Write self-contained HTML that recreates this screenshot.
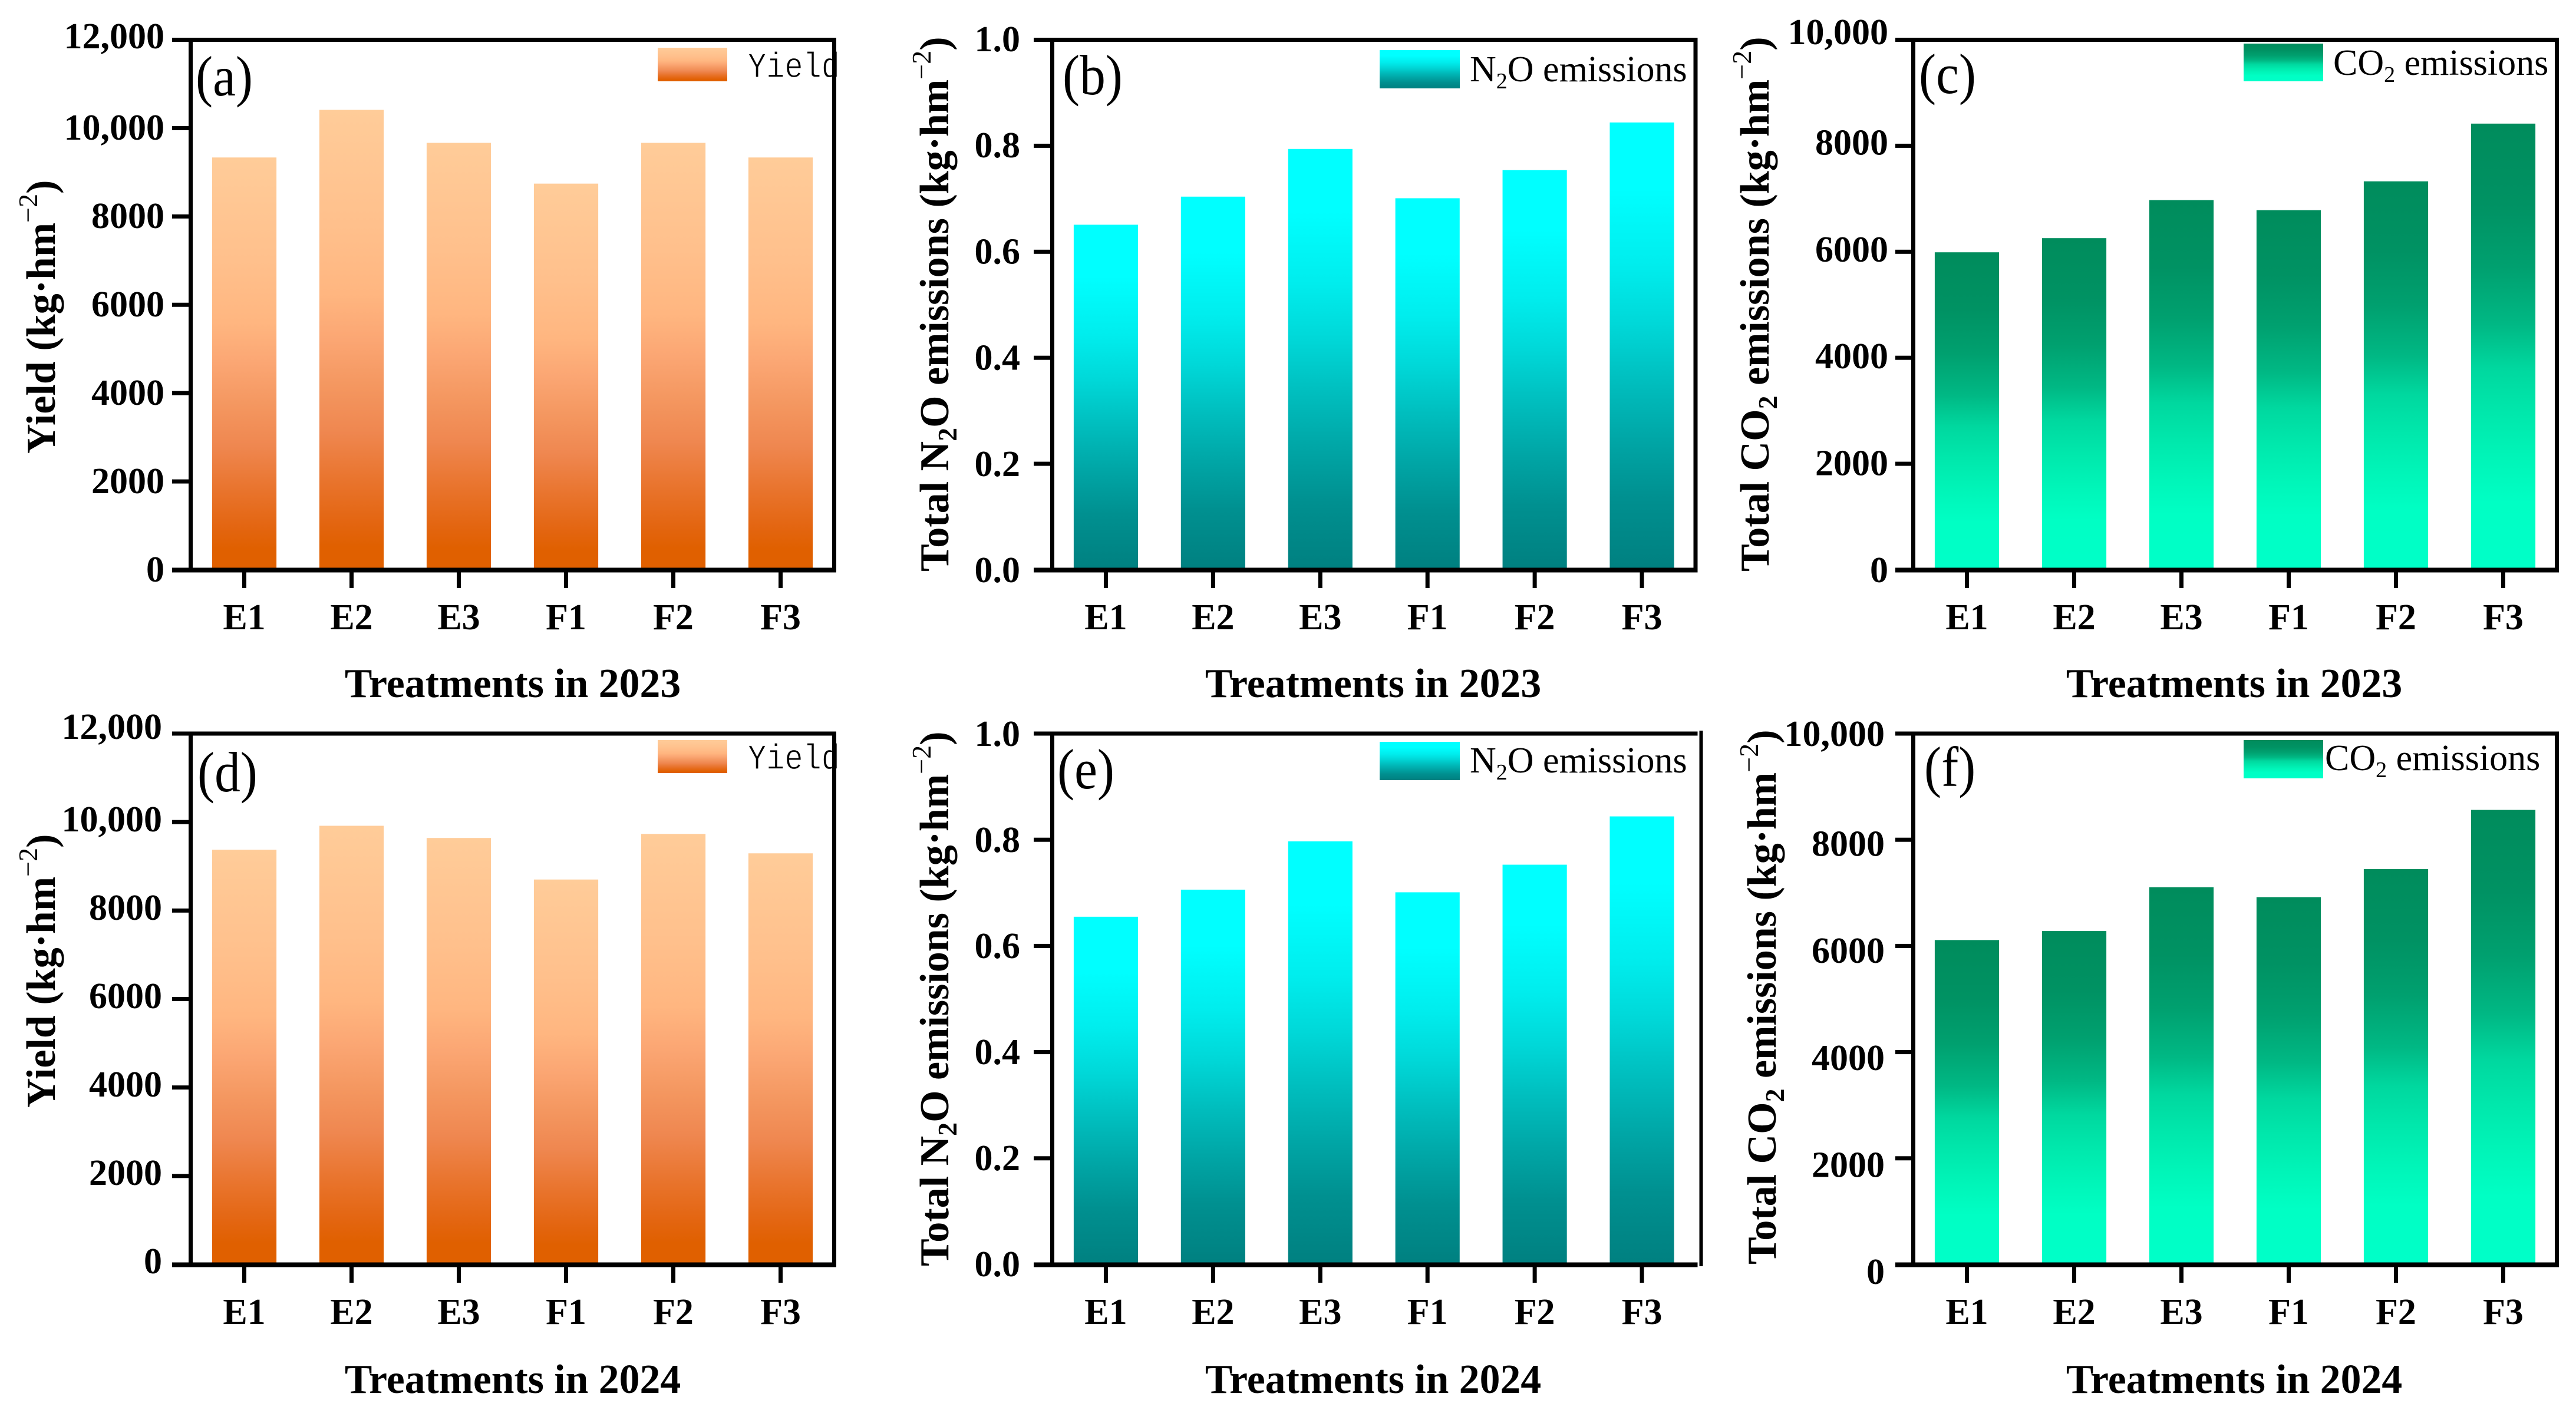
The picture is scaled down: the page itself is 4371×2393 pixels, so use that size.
<!DOCTYPE html>
<html lang="en">
<head>
<meta charset="utf-8">
<title>Yield and emissions by treatment</title>
<style>
html,body{margin:0;padding:0;background:#fff;}
svg{display:block;}
text{font-family:"Liberation Serif","Noto Serif CJK SC",serif;fill:#000;}
.ytitle{font-size:70px;font-weight:bold;}
.xtitle{font-size:69.7px;font-weight:bold;text-anchor:middle;}
.plabel{font-size:96px;}
.leg{font-size:62px;}
.legy{font-family:"Liberation Mono",monospace;font-size:60px;stroke:#fff;stroke-width:1.2px;}
.sub{font-size:46px;}
.sup{font-size:46px;font-weight:normal;}
.lsub{font-size:38px;}
</style>
</head>
<body>
<svg id="figure" xmlns="http://www.w3.org/2000/svg" width="4371" height="2393" viewBox="0 0 4371 2393">
<defs>
<linearGradient id="gOrange" x1="0" y1="0" x2="0" y2="1">
<stop offset="0" stop-color="#FFCC99"/><stop offset="0.25" stop-color="#FFC08C"/><stop offset="0.4" stop-color="#FFB680"/><stop offset="0.5" stop-color="#FBA673"/><stop offset="0.6" stop-color="#F49760"/><stop offset="0.7" stop-color="#EF8750"/><stop offset="0.8" stop-color="#E9752F"/><stop offset="0.9" stop-color="#E36510"/><stop offset="0.95" stop-color="#E06000"/><stop offset="1" stop-color="#E06000"/>
</linearGradient>
<linearGradient id="gCyan" x1="0" y1="0" x2="0" y2="1">
<stop offset="0" stop-color="#00FFFF"/><stop offset="0.15" stop-color="#00FFFF"/><stop offset="0.32" stop-color="#00EDED"/><stop offset="0.45" stop-color="#00D8D8"/><stop offset="0.58" stop-color="#00BEBE"/><stop offset="0.71" stop-color="#00A6A6"/><stop offset="0.84" stop-color="#009090"/><stop offset="1" stop-color="#008080"/>
</linearGradient>
<linearGradient id="gGreen" x1="0" y1="0" x2="0" y2="1">
<stop offset="0" stop-color="#008C5C"/><stop offset="0.18" stop-color="#009263"/><stop offset="0.32" stop-color="#00A06F"/><stop offset="0.45" stop-color="#00B884"/><stop offset="0.55" stop-color="#00D89F"/><stop offset="0.65" stop-color="#00E8AC"/><stop offset="0.75" stop-color="#00F5B8"/><stop offset="0.85" stop-color="#00FFC4"/><stop offset="1" stop-color="#00FFC8"/>
</linearGradient>
</defs>
<rect width="4371" height="2393" fill="#fff"/>

<g id="panel-a">
<text class="ytitle" transform="translate(93,770) rotate(-90)">Yield (kg·hm<tspan class="sup" dy="-30">−2</tspan><tspan dy="30">)</tspan></text>
<text class="xtitle" x="870" y="1183">Treatments in 2023</text>
<text class="plabel" transform="translate(332,162) scale(0.91,1)">(a)</text>
<rect x="1116" y="81" width="118" height="57" fill="url(#gOrange)"/>
<text class="legy" x="1269" y="131" textLength="156" lengthAdjust="spacingAndGlyphs">Yield</text>
</g>

<g id="panel-b">
<text class="ytitle" transform="translate(1609,970) rotate(-90)">Total N<tspan class="sub" dy="14">2</tspan><tspan dy="-14">O emissions (kg·hm</tspan><tspan class="sup" dy="-30">−2</tspan><tspan dy="30">)</tspan></text>
<text class="xtitle" x="2330" y="1183">Treatments in 2023</text>
<text class="plabel" transform="translate(1803,160) scale(0.91,1)">(b)</text>
<rect x="2341" y="85" width="136" height="65" fill="url(#gCyan)"/>
<text class="leg" x="2494" y="138">N<tspan class="lsub" dy="12">2</tspan><tspan dy="-12">O emissions</tspan></text>
</g>

<g id="panel-c">
<text class="ytitle" transform="translate(3001,970) rotate(-90)">Total CO<tspan class="sub" dy="14">2</tspan><tspan dy="-14"> emissions (kg·hm</tspan><tspan class="sup" dy="-30">−2</tspan><tspan dy="30">)</tspan></text>
<text class="xtitle" x="3791" y="1183">Treatments in 2023</text>
<text class="plabel" transform="translate(3256,158) scale(0.91,1)">(c)</text>
<rect x="3807" y="74" width="135" height="64" fill="url(#gGreen)"/>
<text class="leg" x="3959" y="127">CO<tspan class="lsub" dy="12">2</tspan><tspan dy="-12"> emissions</tspan></text>
</g>

<g id="panel-d">
<text class="ytitle" transform="translate(93,1880) rotate(-90)">Yield (kg·hm<tspan class="sup" dy="-30">−2</tspan><tspan dy="30">)</tspan></text>
<text class="xtitle" x="870" y="2364">Treatments in 2024</text>
<text class="plabel" transform="translate(335,1343) scale(0.91,1)">(d)</text>
<rect x="1116" y="1256" width="118" height="56" fill="url(#gOrange)"/>
<text class="legy" x="1269" y="1305" textLength="156" lengthAdjust="spacingAndGlyphs">Yield</text>
</g>

<g id="panel-e">
<text class="ytitle" transform="translate(1609,2149) rotate(-90)">Total N<tspan class="sub" dy="14">2</tspan><tspan dy="-14">O emissions (kg·hm</tspan><tspan class="sup" dy="-30">−2</tspan><tspan dy="30">)</tspan></text>
<text class="xtitle" x="2330" y="2364">Treatments in 2024</text>
<text class="plabel" transform="translate(1794,1338) scale(0.91,1)">(e)</text>
<rect x="2341" y="1259" width="136" height="65" fill="url(#gCyan)"/>
<text class="leg" x="2494" y="1311">N<tspan class="lsub" dy="12">2</tspan><tspan dy="-12">O emissions</tspan></text>
</g>

<g id="panel-f">
<text class="ytitle" transform="translate(3013,2146) rotate(-90)">Total CO<tspan class="sub" dy="14">2</tspan><tspan dy="-14"> emissions (kg·hm</tspan><tspan class="sup" dy="-30">−2</tspan><tspan dy="30">)</tspan></text>
<text class="xtitle" x="3791" y="2364">Treatments in 2024</text>
<text class="plabel" transform="translate(3265,1334) scale(0.91,1)">(f)</text>
<rect x="3807" y="1256" width="135" height="65" fill="url(#gGreen)"/>
<text class="leg" x="3945" y="1307">CO<tspan class="lsub" dy="12">2</tspan><tspan dy="-12"> emissions</tspan></text>
</g>
</svg>

<script>
const categories = ['E1', 'E2', 'E3', 'F1', 'F2', 'F3'];

const yield2023 = [9335, 10413, 9666, 8743, 9666, 9335];
const n2o2023 = [0.651, 0.704, 0.794, 0.701, 0.754, 0.844];
const co22023 = [5990, 6257, 6975, 6785, 7329, 8418];
const yield2024 = [9375, 9916, 9640, 8701, 9732, 9293];
const n2o2024 = [0.655, 0.706, 0.797, 0.701, 0.753, 0.844];
const co22024 = [6111, 6281, 7106, 6919, 7447, 8562];

const yieldTicks = [0, 2000, 4000, 6000, 8000, 10000, 12000];
const yieldTickLabels = ['0', '2000', '4000', '6000', '8000', '10,000', '12,000'];
const n2oTicks = [0, 0.2, 0.4, 0.6, 0.8, 1.0];
const n2oTickLabels = ['0.0', '0.2', '0.4', '0.6', '0.8', '1.0'];
const co2Ticks = [0, 2000, 4000, 6000, 8000, 10000];
const co2TickLabels = ['0', '2000', '4000', '6000', '8000', '10,000'];

const SVGNS = 'http://www.w3.org/2000/svg';

function make(parent, tag, attrs) {
  const node = document.createElementNS(SVGNS, tag);
  Object.keys(attrs).forEach(function (k) { node.setAttribute(k, attrs[k]); });
  parent.appendChild(node);
  return node;
}

function drawPanel(p) {
  const host = document.getElementById(p.id);
  const maxV = p.ticks[p.ticks.length - 1];
  const step = (p.right - p.left) / categories.length;
  const barW = step * 0.6;
  const xScale = function (i) { return p.left + step * (i + 0.5); };
  const yScale = function (v) { return p.bottom - (p.bottom - p.top) * v / maxV; };
  const labelY = function (v) {
    const shift = v === maxV ? (p.topShift || 0) : 0;
    return p.lab0 + (p.labMax - p.lab0) * v / maxV + 21 + shift;
  };

  const bars = make(host, 'g', {});
  
  
  p.values.forEach(function (v, i) {
    const bar = make(bars, 'rect', {
      x: xScale(i) - barW / 2,
      y: yScale(v),
      width: barW,
      height: p.bottom - yScale(v),
      fill: 'url(#' + p.grad + ')'
    });
    
    
  });

  const xAxis = make(host, 'g', {});
  
  
  categories.forEach(function (c, i) {
    const t = make(xAxis, 'rect', { x: xScale(i) - 3.5, y: p.bottom, width: 7, height: p.tickDown - p.bottom, fill: '#000' });
    
    
    const l = make(xAxis, 'text', { x: xScale(i), y: p.xLabelY, 'text-anchor': 'middle', 'font-size': 62, 'font-weight': 'bold' });
    l.textContent = c;
    
    
  });

  const yAxis = make(host, 'g', {});
  
  
  p.ticks.forEach(function (v, i) {
    const t = make(yAxis, 'rect', { x: p.tickLeft, y: yScale(v) - 3.5, width: p.left - p.tickLeft, height: 7, fill: '#000' });
    
    
    const l = make(yAxis, 'text', { x: p.labelRight, y: labelY(v), 'text-anchor': 'end', 'font-size': 62, 'font-weight': 'bold' });
    l.textContent = p.labels[i];
    
    
  });

  const frame = make(host, 'g', { fill: '#000' });
  
  
  make(frame, 'rect', { x: p.tickLeft, y: p.top - 3.5, width: p.right + 3.5 - p.tickLeft, height: 7 });
  make(frame, 'rect', { x: p.tickLeft, y: p.bottom - 3.5, width: p.right + 3.5 - p.tickLeft, height: 8 });
  make(frame, 'rect', { x: p.left - 3.5, y: p.top - 3.5, width: 7, height: p.bottom - p.top + 7 });
  make(frame, 'rect', {
    x: (p.rightLineX || p.right) - 3.5,
    y: p.rightLineX ? p.top - 5 : p.top - 3.5,
    width: p.rightLineX ? 6 : 7,
    height: p.bottom - p.top + (p.rightLineX ? 8 : 7)
  });
}

const rowTop = { top: 67.5, bottom: 967, tickDown: 998, xLabelY: 1068 };
const rowBot = { top: 1245, bottom: 2146, tickDown: 2177, xLabelY: 2247 };

drawPanel(Object.assign({}, rowTop, { id: 'panel-a', values: yield2023, ticks: yieldTicks, labels: yieldTickLabels, grad: 'gOrange', left: 323.5, right: 1415.5, tickLeft: 292, labelRight: 279, lab0: 966, labMax: 66, topShift: -5 }));
drawPanel(Object.assign({}, rowTop, { id: 'panel-b', values: n2o2023, ticks: n2oTicks, labels: n2oTickLabels, grad: 'gCyan', left: 1785.5, right: 2877, tickLeft: 1754, labelRight: 1731, lab0: 967, labMax: 66 }));
drawPanel(Object.assign({}, rowTop, { id: 'panel-c', values: co22023, ticks: co2Ticks, labels: co2TickLabels, grad: 'gGreen', left: 3246.5, right: 4338.5, tickLeft: 3216, labelRight: 3204, lab0: 967, labMax: 60, topShift: -6 }));
drawPanel(Object.assign({}, rowBot, { id: 'panel-d', values: yield2024, ticks: yieldTicks, labels: yieldTickLabels, grad: 'gOrange', left: 323.5, right: 1415.5, tickLeft: 292, labelRight: 275, lab0: 2140, labMax: 1240, topShift: -7 }));
drawPanel(Object.assign({}, rowBot, { id: 'panel-e', values: n2o2024, ticks: n2oTicks, labels: n2oTickLabels, grad: 'gCyan', left: 1785.5, right: 2877, rightLineX: 2887, tickLeft: 1754, labelRight: 1731, lab0: 2145, labMax: 1245 }));
drawPanel(Object.assign({}, rowBot, { id: 'panel-f', values: co22024, ticks: co2Ticks, labels: co2TickLabels, grad: 'gGreen', left: 3246.5, right: 4338.5, tickLeft: 3216, labelRight: 3198, lab0: 2158, labMax: 1250, topShift: -5 }));
</script>
</body>
</html>
